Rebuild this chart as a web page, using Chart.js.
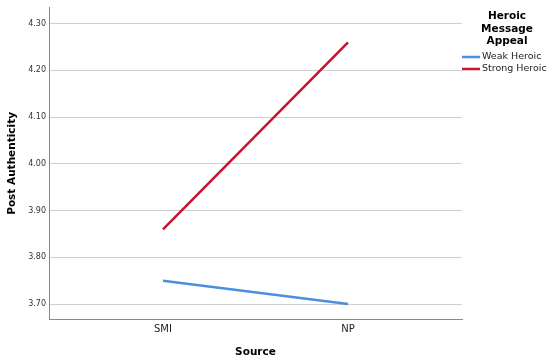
<!DOCTYPE html>
<html>
<head>
<meta charset="utf-8">
<script src="https://cdn.jsdelivr.net/npm/chart.js@4/dist/chart.umd.min.js"></script>
<style>
  html, body { margin: 0; padding: 0; background: #fff; }
  #wrap { width: 550px; height: 364px; }
</style>
</head>
<body>
<div id="wrap"><canvas id="interaction_chart"></canvas></div>
<script>
const sources = ['SMI', 'NP'];
const weakHeroic = [3.75, 3.70];
const strongHeroic = [3.86, 4.26];
const seriesNames = ['Weak Heroic', 'Strong Heroic'];
const legendTitle = ['Heroic', 'Message', 'Appeal'];
const yTicks = [3.70, 3.80, 3.90, 4.00, 4.10, 4.20, 4.30];

const fontFamily = '"DejaVu Sans", sans-serif';
const colors = ['rgb(74, 144, 221)', 'rgb(200, 18, 50)'];

const toPoints = (values) => values.map((y, x) => ({ x, y }));

// SPSS-style legend drawn to the right of the plot
const sideLegend = {
  id: 'sideLegend',
  afterDraw(chart) {
    const { ctx } = chart;
    ctx.save();
    ctx.fillStyle = '#000';
    ctx.font = 'bold 10.5px ' + fontFamily;
    ctx.textAlign = 'center';
    ctx.textBaseline = 'middle';
    legendTitle.forEach((line, i) => ctx.fillText(line, 507, 16.5 + i * 12.5));

    ctx.font = '9.5px ' + fontFamily;
    ctx.textAlign = 'left';
    chart.data.datasets.forEach((ds, i) => {
      const y = 57 + i * 12;
      ctx.strokeStyle = ds.borderColor;
      ctx.lineWidth = 2.5;
      ctx.beginPath();
      ctx.moveTo(462, y);
      ctx.lineTo(480, y);
      ctx.stroke();
      ctx.fillStyle = '#222';
      ctx.fillText(ds.label, 482, y);
    });
    ctx.restore();
  },
};

const chart = new Chart(document.getElementById('interaction_chart').getContext('2d'), {
  type: 'line',
  data: {
    datasets: [
      {
        label: seriesNames[0],
        data: toPoints(weakHeroic),
        borderColor: colors[0],
        borderWidth: 2.5,
        pointRadius: 0,
      },
      {
        label: seriesNames[1],
        data: toPoints(strongHeroic),
        borderColor: colors[1],
        borderWidth: 2.5,
        pointRadius: 0,
      },
    ],
  },
  options: {
    responsive: true,
    maintainAspectRatio: false,
    animation: false,
    layout: { padding: { top: 6, right: 88, left: 0, bottom: 0 } },
    plugins: {
      legend: { display: false },
      tooltip: { enabled: false },
    },
    scales: {
      x: {
        type: 'linear',
        min: -0.616,
        max: 1.616,
        afterBuildTicks: (scale) => { scale.ticks = sources.map((_, i) => ({ value: i })); },
        afterFit: (scale) => { scale.height = 45; },
        ticks: {
          callback: (v) => sources[v],
          color: '#222',
          font: { family: fontFamily, size: 10 },
          padding: 4,
          maxRotation: 0,
        },
        grid: { display: false, drawTicks: false },
        border: { display: true, color: '#8a8a8a', width: 1 },
        title: {
          display: true,
          text: 'Source',
          color: '#000',
          font: { family: fontFamily, size: 10.5, weight: 'bold' },
          padding: { top: 0, bottom: 5 },
        },
      },
      y: {
        min: 3.668,
        max: 4.334,
        afterBuildTicks: (scale) => { scale.ticks = yTicks.map((value) => ({ value })); },
        afterFit: (scale) => { scale.width = 49; },
        ticks: {
          callback: (v) => v.toFixed(2),
          color: '#333',
          font: { family: fontFamily, size: 8 },
          padding: 3,
        },
        grid: { color: '#cfcfcf', lineWidth: 1, drawTicks: false },
        border: { display: true, color: '#8a8a8a', width: 1 },
        title: {
          display: true,
          text: 'Post Authenticity',
          color: '#000',
          font: { family: fontFamily, size: 10.5, weight: 'bold' },
          padding: { top: 6, bottom: 0 },
        },
      },
    },
  },
  plugins: [sideLegend],
});
</script>
</body>
</html>
